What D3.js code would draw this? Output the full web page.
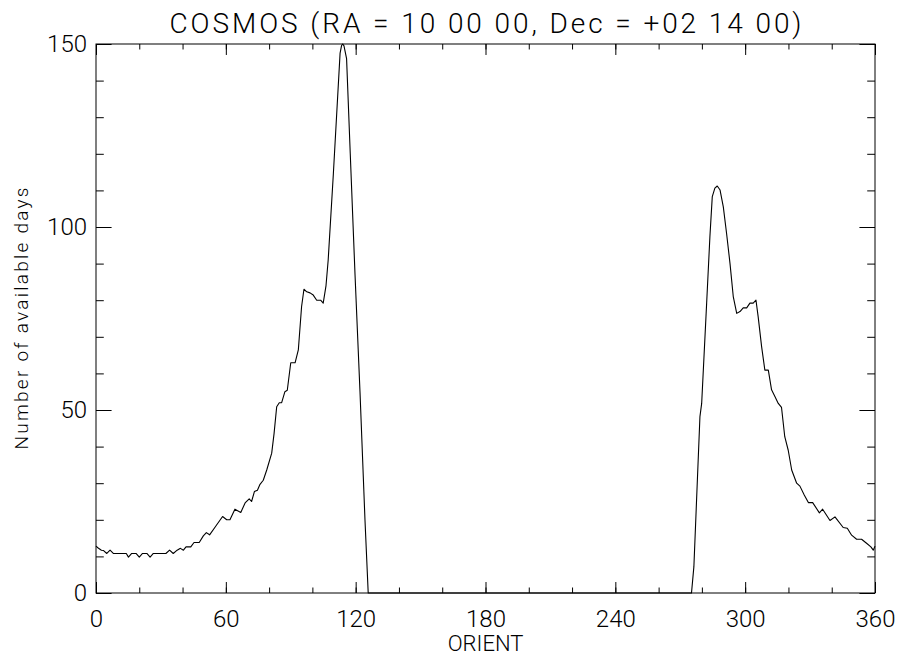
<!DOCTYPE html>
<html>
<head>
<meta charset="utf-8">
<script src="https://cdn.jsdelivr.net/npm/d3@7"></script>
<style>
  html, body { margin: 0; padding: 0; background: #fff; }
  svg { display: block; }
  text { font-family: Roboto, "Liberation Sans", Arial, sans-serif; font-weight: 300; fill: #000; }
</style>
</head>
<body>
<div id="chart"></div>
<script>
// values (orient in degrees, number of available days)
const orient = [
    0, 1, 2.5, 3.5, 5, 6.5, 8, 10, 12, 14, 15, 16.5, 18.5, 20, 21.5, 23.5, 25, 26.5, 28, 30,
    32.3, 34, 35.7, 37.5, 39, 40.4, 41.6, 43.8, 45.3, 47.7, 49.6, 51, 52.5, 55.4, 58.5, 60.4,
    61.9, 64.2, 66.9, 68.9, 70.8, 71.9, 73.2, 74.6, 75.8, 77.3, 78.9, 81.2, 82.3, 83.5, 84.7,
    85.8, 87.3, 88.4, 90, 92, 93.5, 95, 96.1, 97.4, 98.9, 100.4, 102, 103.8, 105, 106.3, 107.3,
    109.7, 112.8, 113.5, 114, 114.6, 115.8, 117.5, 119.7, 122, 124.3, 125.8,
    275.2, 276.3, 279.1, 279.9, 282.2, 283.7, 284.8, 286, 287.1, 288.4, 289.9, 291.4, 293,
    294.5, 296.1, 297.6, 299.1, 300.7, 302.2, 303.7, 305, 306, 307.6, 309.1, 310.7, 312.2,
    313.8, 315.3, 316.8, 318.3, 319.9, 321.5, 323.8, 325.3, 327.3, 329.2, 331.2, 334.3, 335.8,
    339.2, 341.5, 345.3, 347.2, 349.2, 351.5, 353.8, 356.1, 358.1, 359.2, 360
];
const days = [
    12.8, 12.3, 11.7, 11.6, 10.8, 11.7, 10.8, 10.8, 10.8, 10.8, 9.8, 10.8, 10.8, 9.8, 10.8, 10.8, 9.8, 10.8, 10.8, 10.8,
    10.8, 11.7, 10.8, 11.7, 12.2, 11.7, 12.6, 12.6, 13.8, 13.8, 15.6, 16.5, 15.9, 18.3, 20.9, 20,
    20, 22.9, 22, 24.6, 25.7, 25, 27.7, 28.1, 29.7, 30.8, 33.6, 38.2, 43.6, 50.9, 52,
    52, 55, 55.4, 62.9, 62.9, 66.4, 78.2, 83, 82.3, 82, 81.4, 80, 80, 79.2, 84, 91,
    114.6, 147.5, 149.6, 150, 149.5, 146, 120, 87, 55, 20, 0,
    0, 7.2, 48.2, 51.8, 79.2, 97.3, 108.3, 110.6, 111.2, 110.1, 105.5, 98.3, 90,
    81, 76.4, 76.9, 77.9, 77.9, 79.2, 79.2, 80, 75.5, 67.3, 60.9, 60.9, 55.5,
    53.6, 51.8, 50.7, 42.7, 39, 33.6, 30, 29.2, 26.8, 24.7, 24.7, 21.9, 22.9,
    19.8, 20.8, 17.9, 17.7, 15.8, 14.7, 14.7, 13.6, 12.6, 11.7, 12.8
];

const xMajor = [0, 60, 120, 180, 240, 300, 360];
const xMinor = d3.range(0, 361, 20);
const yMajor = [0, 50, 100, 150];
const yMinor = d3.range(0, 151, 10);

const titleText = 'COSMOS (RA = 10 00 00, Dec = +02 14 00)';
const xLabel = 'ORIENT';
const yLabel = 'Number of available days';

const width = 901, height = 656;
const plot = {left: 96, right: 875, top: 44, bottom: 593};
const fontFamily = 'Roboto, "Liberation Sans", Arial, sans-serif';

const svg = d3.select('#chart').append('svg')
    .attr('width', width)
    .attr('height', height);

const x = d3.scaleLinear().domain([0, 360]).range([plot.left, plot.right]);
const y = d3.scaleLinear().domain([0, 150]).range([plot.bottom, plot.top]);

// tick lengths like IDL: 2% of the opposite plot dimension
const xTickLen = 0.02 * (plot.bottom - plot.top);
const yTickLen = 0.02 * (plot.right - plot.left);

function styleAxis(g) {
    g.select('.domain').remove();
    g.selectAll('line').attr('stroke', '#000').attr('stroke-width', 1);
    g.selectAll('text')
        .attr('font-family', fontFamily)
        .attr('font-weight', 300)
        .attr('font-size', 24)
        .attr('fill', '#000');
}

// bottom axis
svg.append('g')
    .attr('transform', `translate(0,${plot.bottom})`)
    .call(d3.axisBottom(x).tickValues(xMinor).tickSize(-xTickLen / 2).tickFormat(''))
    .call(styleAxis);
svg.append('g')
    .attr('transform', `translate(0,${plot.bottom})`)
    .call(d3.axisBottom(x).tickValues(xMajor).tickSize(-xTickLen).tickPadding(17).tickFormat(d3.format('d')))
    .call(styleAxis);

// top axis (no labels)
svg.append('g')
    .attr('transform', `translate(0,${plot.top})`)
    .call(d3.axisTop(x).tickValues(xMinor).tickSize(-xTickLen / 2).tickFormat(''))
    .call(styleAxis);
svg.append('g')
    .attr('transform', `translate(0,${plot.top})`)
    .call(d3.axisTop(x).tickValues(xMajor).tickSize(-xTickLen).tickFormat(''))
    .call(styleAxis);

// left axis
svg.append('g')
    .attr('transform', `translate(${plot.left},0)`)
    .call(d3.axisLeft(y).tickValues(yMinor).tickSize(-yTickLen / 2).tickFormat(''))
    .call(styleAxis);
svg.append('g')
    .attr('transform', `translate(${plot.left},0)`)
    .call(d3.axisLeft(y).tickValues(yMajor).tickSize(-yTickLen).tickPadding(9).tickFormat(d3.format('d')))
    .call(styleAxis);

// right axis (no labels)
svg.append('g')
    .attr('transform', `translate(${plot.right},0)`)
    .call(d3.axisRight(y).tickValues(yMinor).tickSize(-yTickLen / 2).tickFormat(''))
    .call(styleAxis);
svg.append('g')
    .attr('transform', `translate(${plot.right},0)`)
    .call(d3.axisRight(y).tickValues(yMajor).tickSize(-yTickLen).tickFormat(''))
    .call(styleAxis);

// frame
svg.append('rect')
    .attr('x', plot.left)
    .attr('y', plot.top)
    .attr('width', plot.right - plot.left)
    .attr('height', plot.bottom - plot.top)
    .attr('fill', 'none')
    .attr('stroke', '#000')
    .attr('stroke-width', 1);

// data line
const points = orient.map((o, i) => [o, days[i]]);
const line = d3.line()
    .x(d => x(d[0]))
    .y(d => y(d[1]));

svg.append('path')
    .datum(points)
    .attr('d', line)
    .attr('fill', 'none')
    .attr('stroke', '#000')
    .attr('stroke-width', 1.1)
    .attr('stroke-linejoin', 'round');

// title
svg.append('text')
    .attr('x', (plot.left + plot.right) / 2)
    .attr('y', 33)
    .attr('text-anchor', 'middle')
    .attr('font-size', 28)
    .attr('textLength', 632)
    .attr('lengthAdjust', 'spacing')
    .text(titleText);

// x label
svg.append('text')
    .attr('x', (plot.left + plot.right) / 2)
    .attr('y', 651)
    .attr('text-anchor', 'middle')
    .attr('font-size', 22)
    .text(xLabel);

// y label
svg.append('text')
    .attr('transform', `translate(28,${(plot.top + plot.bottom) / 2}) rotate(-90)`)
    .attr('text-anchor', 'middle')
    .attr('font-size', 19)
    .attr('textLength', 262)
    .attr('lengthAdjust', 'spacing')
    .text(yLabel);
</script>
</body>
</html>
